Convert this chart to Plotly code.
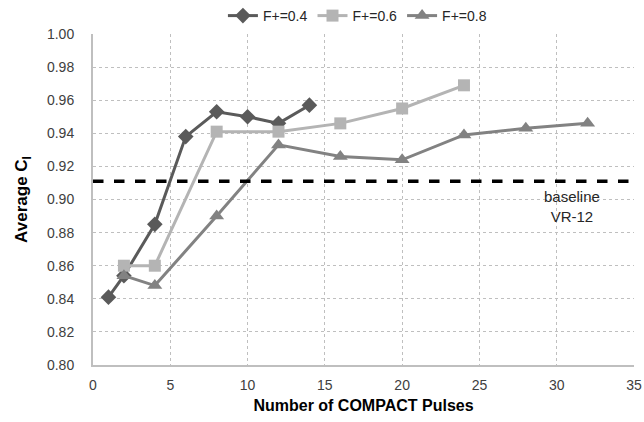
import plotly.graph_objects as go

x_04 = [1, 2, 4, 6, 8, 10, 12, 14]
y_04 = [0.841, 0.854, 0.885, 0.938, 0.953, 0.950, 0.946, 0.957]
x_06 = [2, 4, 8, 12, 16, 20, 24]
y_06 = [0.860, 0.860, 0.941, 0.941, 0.946, 0.955, 0.969]
x_08 = [2, 4, 8, 12, 16, 20, 24, 28, 32]
y_08 = [0.854, 0.848, 0.890, 0.933, 0.926, 0.924, 0.939, 0.943, 0.946]
baseline = 0.911
names = ["F+=0.4", "F+=0.6", "F+=0.8"]

fig = go.Figure()
fig.add_trace(go.Scatter(x=x_04, y=y_04, name=names[0], mode="lines+markers",
                         line=dict(color="#5a5a5a", width=3),
                         marker=dict(symbol="diamond", size=12, color="#5a5a5a")))
fig.add_trace(go.Scatter(x=x_06, y=y_06, name=names[1], mode="lines+markers",
                         line=dict(color="#b4b4b4", width=3),
                         marker=dict(symbol="square", size=12, color="#b4b4b4")))
fig.add_trace(go.Scatter(x=x_08, y=y_08, name=names[2], mode="lines+markers",
                         line=dict(color="#828282", width=3),
                         marker=dict(symbol="triangle-up", size=13, color="#828282")))
fig.add_trace(go.Scatter(x=[0, 35], y=[baseline, baseline], mode="lines",
                         line=dict(color="black", width=3.5, dash="dash"),
                         showlegend=False, hoverinfo="skip"))

fig.add_annotation(x=31, y=0.896, text="baseline<br>VR-12", showarrow=False,
                   font=dict(family="Liberation Sans, Arial", size=15, color="#262626"))

fig.update_layout(
    width=644, height=422,
    margin=dict(l=93, r=10, t=34, b=57, autoexpand=False),
    plot_bgcolor="white", paper_bgcolor="white",
    font=dict(family="Liberation Sans, Arial", size=14, color="#404040"),
    legend=dict(orientation="h", x=0.555, xanchor="center", y=1.0, yanchor="top",
                yref="container", xref="container",
                font=dict(size=14, color="#262626"),
                bgcolor="rgba(0,0,0,0)", tracegroupgap=0),
    xaxis=dict(range=[0, 35], dtick=5, tick0=0, showgrid=True, gridcolor="#bfbfbf",
               griddash="dot", gridwidth=1, showline=True, linecolor="#bfbfbf",
               linewidth=2, zeroline=False, ticks="outside", ticklen=6,
               tickcolor="rgba(0,0,0,0)",
               title=dict(text="<b>Number of COMPACT Pulses</b>", standoff=8,
                          font=dict(size=16, color="#000000"))),
    yaxis=dict(range=[0.80, 1.00], dtick=0.02, tickformat=".2f", showgrid=True,
               gridcolor="#bfbfbf", griddash="dot", gridwidth=1, showline=True,
               linecolor="#bfbfbf", linewidth=2, zeroline=False, ticks="outside",
               ticklen=14, tickcolor="rgba(0,0,0,0)",
               title=dict(text="<b>Average C<sub>l</sub></b>", standoff=15,
                          font=dict(size=17, color="#000000"))),
)
fig.write_html("out.html")
